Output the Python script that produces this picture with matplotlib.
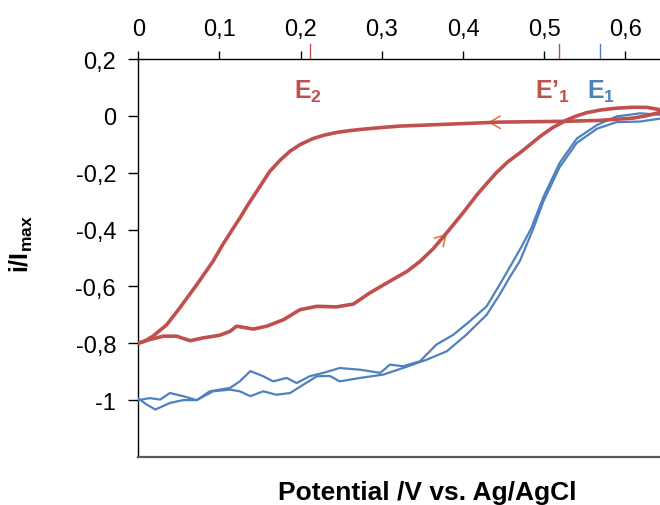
import numpy as np
import matplotlib
matplotlib.use("Agg")
import matplotlib.pyplot as plt
from matplotlib.ticker import FuncFormatter

plt.rcParams["font.family"] = ["Liberation Sans", "DejaVu Sans"]
plt.rcParams["mathtext.fontset"] = "custom"
plt.rcParams["mathtext.rm"] = "Liberation Sans"
plt.rcParams["mathtext.bf"] = "Liberation Sans:bold"
plt.rcParams["mathtext.default"] = "bf"

# ---------------------------------------------------------------------------
# Data
# ---------------------------------------------------------------------------

# red CV: forward sweep then backward sweep
red_fwd_x = [0.0, 0.014, 0.031, 0.047, 0.064, 0.080, 0.100, 0.113, 0.121, 0.142,
             0.158, 0.179, 0.199, 0.220, 0.244, 0.265, 0.285, 0.306, 0.331, 0.347,
             0.363, 0.375, 0.388, 0.403, 0.417, 0.430, 0.441, 0.455, 0.470, 0.483,
             0.495, 0.510, 0.528, 0.540, 0.552, 0.570, 0.589, 0.608, 0.626, 0.642]
red_fwd_y = [-0.800, -0.787, -0.775, -0.775, -0.791, -0.781, -0.772, -0.758, -0.740, -0.750,
             -0.740, -0.717, -0.682, -0.670, -0.672, -0.662, -0.623, -0.588, -0.547, -0.512,
             -0.468, -0.428, -0.383, -0.330, -0.278, -0.235, -0.200, -0.162, -0.130, -0.100,
             -0.072, -0.042, -0.014, 0.000, 0.011, 0.021, 0.027, 0.030, 0.030, 0.022]
red_rev_x = [0.642, 0.625, 0.609, 0.568, 0.528, 0.445, 0.384, 0.322, 0.300, 0.280,
             0.260, 0.245, 0.230, 0.215, 0.200, 0.187, 0.175, 0.162, 0.146, 0.135,
             0.125, 0.117, 0.104, 0.092, 0.072, 0.051, 0.035, 0.018, 0.008, 0.0]
red_rev_y = [0.012, 0.000, -0.008, -0.016, -0.019, -0.022, -0.029, -0.036, -0.041, -0.046,
             -0.052, -0.058, -0.067, -0.080, -0.100, -0.124, -0.155, -0.195, -0.265, -0.313,
             -0.360, -0.395, -0.453, -0.512, -0.594, -0.676, -0.735, -0.775, -0.792, -0.800]

# blue CV
blue_fwd_x = [0.0, 0.010, 0.021, 0.039, 0.055, 0.072, 0.088, 0.113, 0.125, 0.138,
              0.154, 0.166, 0.183, 0.195, 0.211, 0.228, 0.248, 0.273, 0.298, 0.310,
              0.326, 0.347, 0.367, 0.388, 0.408, 0.429, 0.445, 0.460, 0.472, 0.484,
              0.499, 0.519, 0.540, 0.565, 0.589, 0.618, 0.642]
blue_fwd_y = [-0.994, -1.015, -1.033, -1.010, -1.000, -1.000, -0.969, -0.957, -0.934, -0.898,
              -0.916, -0.934, -0.922, -0.940, -0.916, -0.904, -0.887, -0.893, -0.904, -0.875,
              -0.881, -0.863, -0.805, -0.770, -0.723, -0.670, -0.594, -0.520, -0.460, -0.395,
              -0.285, -0.165, -0.080, -0.032, -0.002, 0.009, 0.004]
blue_rev_x = [0.642, 0.618, 0.589, 0.565, 0.540, 0.519, 0.499, 0.486, 0.470, 0.457,
              0.445, 0.429, 0.404, 0.380, 0.355, 0.326, 0.302, 0.273, 0.248, 0.236,
              0.220, 0.203, 0.187, 0.170, 0.154, 0.138, 0.125, 0.113, 0.092, 0.072,
              0.055, 0.039, 0.027, 0.014, 0.0]
blue_rev_y = [-0.010, -0.020, -0.022, -0.045, -0.095, -0.180, -0.300, -0.400, -0.510, -0.570,
              -0.629, -0.700, -0.770, -0.828, -0.858, -0.887, -0.910, -0.922, -0.934, -0.915,
              -0.916, -0.946, -0.975, -0.981, -0.969, -0.986, -0.969, -0.963, -0.969, -1.000,
              -0.986, -0.975, -0.998, -0.993, -1.000]

# characteristic potentials marked above the top axis
marks_x = [0.211, 0.518, 0.569]
marks_lbl = ["E$_2$", "E\u2019$_1$", "E$_1$"]
marks_lbl_x = [0.192, 0.489, 0.553]

# sweep direction arrows: (tail, head) in data coords
arrows = [((0.445, -0.0225), (0.431, -0.0230)),
          ((0.370, -0.445), (0.380, -0.415))]

xticks = [0, 0.1, 0.2, 0.3, 0.4, 0.5, 0.6]
yticks = [0.2, 0, -0.2, -0.4, -0.6, -0.8, -1.0]

RED = "#C0504D"
BLUE = "#4F81BD"
ORANGE = "#E2703A"

# ---------------------------------------------------------------------------
# Figure
# ---------------------------------------------------------------------------

fig = plt.figure(figsize=(6.6, 5.06), dpi=100)
ax = fig.add_axes([0.2095, 0.0949, 0.7905, 0.7865])

ax.plot(blue_fwd_x, blue_fwd_y, color=BLUE, lw=1.6, solid_joinstyle="round", zorder=3)
ax.plot(blue_rev_x, blue_rev_y, color=BLUE, lw=1.6, solid_joinstyle="round", zorder=3)
ax.plot(red_fwd_x, red_fwd_y, color=RED, lw=2.6, solid_joinstyle="round", zorder=4)
ax.plot(red_rev_x, red_rev_y, color=RED, lw=2.6, solid_joinstyle="round", zorder=4)

for tail, head in arrows:
    ax.annotate("", xy=head, xytext=tail, zorder=3,
                arrowprops=dict(arrowstyle="->,head_length=0.75,head_width=0.45",
                                color=ORANGE, lw=1.1, shrinkA=0, shrinkB=0))

ax.set_xlim(0, 0.6425)
ax.set_ylim(-1.2, 0.2)

ax.xaxis.tick_top()
ax.set_xticks(xticks)
ax.set_yticks(yticks)

fmt = FuncFormatter(lambda v, pos: f"{v:g}".replace(".", ","))
ax.xaxis.set_major_formatter(fmt)
ax.yaxis.set_major_formatter(fmt)

ax.tick_params(axis="x", direction="out", length=6, width=1, pad=8, labelsize=17)
ax.tick_params(axis="y", direction="out", length=7, width=1, pad=9, labelsize=17)

ax.spines["right"].set_visible(False)
ax.spines["top"].set_linewidth(1.0)
ax.spines["left"].set_linewidth(1.0)
ax.spines["bottom"].set_color("#595959")
ax.spines["bottom"].set_linewidth(1.6)

# potential markers
for xm, col in zip(marks_x, [RED, RED, BLUE]):
    ax.plot([xm, xm], [0.2, 0.253], color=col, lw=1.0, clip_on=False)
for xl, lbl, col in zip(marks_lbl_x, marks_lbl, [RED, RED, BLUE]):
    ax.text(xl, 0.062, lbl, color=col, fontsize=18, fontweight="bold",
            ha="left", va="baseline")

fig.text(0.647, 0.0119, "Potential /V vs. Ag/AgCl", fontsize=19, fontweight="bold",
         ha="center", va="baseline")
fig.text(0.033, 0.518, "i/I$_{max}$", fontsize=18, fontweight="bold",
         rotation=90, ha="center", va="center")

fig.savefig("out.png", dpi=100)
